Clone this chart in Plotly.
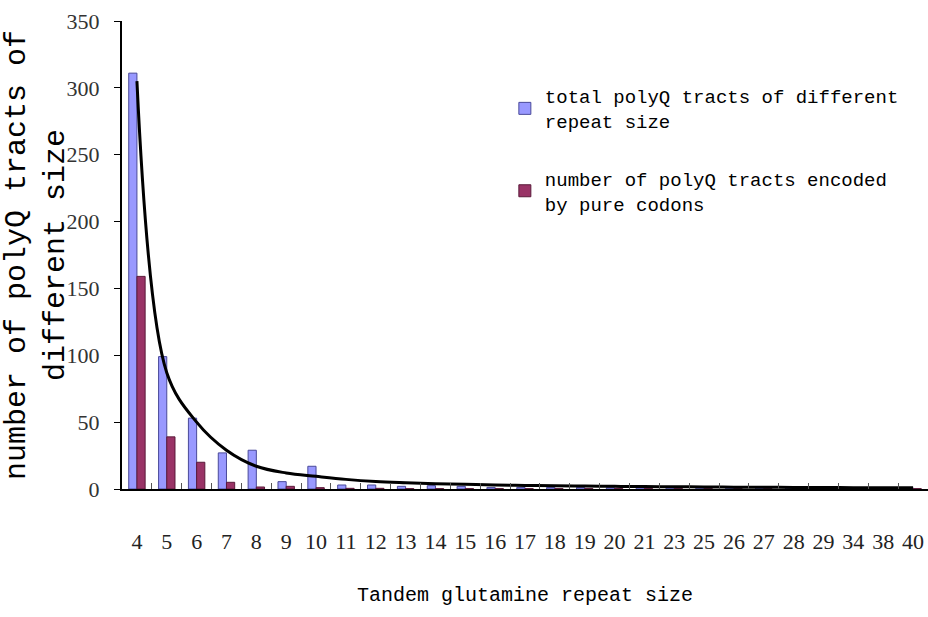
import plotly.graph_objects as go

categories = ["4", "5", "6", "7", "8", "9", "10", "11", "12", "13", "14", "15", "16",
              "17", "18", "19", "20", "21", "23", "25", "26", "27", "28", "29", "34", "38", "40"]
total_tracts = [311, 99, 53, 27, 29, 5.5, 17, 3, 3, 2, 2.5, 2, 1.2, 1.2, 1.2, 1.2,
                1, 1, 1, 1, 1, 1, 1, 1, 1, 1, 1]
pure_codon_tracts = [159, 39, 20, 5, 1.5, 2, 1, 0.5, 0.5, 0.3, 0.3, 0.3, 0.3, 0.3, 0.3, 0.3,
                     0.3, 0.3, 0.3, 0.3, 0.3, 0.3, 0.3, 0.3, 0.3, 0.3, 0.3]
trend_values = [305, 87, 50, 29, 17, 12, 9.5, 7.2, 5.6, 4.7, 4.0, 3.5, 3.0, 2.7, 2.4,
                2.2, 2.0, 1.8, 1.7, 1.5, 1.4, 1.3, 1.2, 1.1, 1.0, 0.95, 0.9]

legend_total = "total polyQ tracts of different<br>repeat size"
legend_pure = "number of polyQ tracts encoded<br>by pure codons"

mono = "Liberation Mono, Courier New, monospace"
serif = "Liberation Serif, Times New Roman, serif"

fig = go.Figure()
fig.add_trace(go.Bar(
    x=categories, y=total_tracts, name=legend_total, legendgroup="a",
    marker=dict(color="#9999ff", line=dict(color="#4a4a9a", width=1)),
))
fig.add_trace(go.Bar(
    x=categories, y=pure_codon_tracts, name=legend_pure, legendgroup="b",
    marker=dict(color="#993366", line=dict(color="#5a1a3a", width=1)),
))
fig.add_trace(go.Scatter(
    x=categories, y=trend_values, mode="lines", showlegend=False,
    line=dict(color="black", width=3, shape="spline", smoothing=1.0),
))

fig.update_layout(
    width=928, height=617,
    margin=dict(l=122, r=0, t=21, b=128, autoexpand=False),
    paper_bgcolor="white", plot_bgcolor="white",
    barmode="group", bargap=0.45, bargroupgap=0,
    showlegend=True,
    legend=dict(
        x=0.475, y=0.88, xanchor="left", yanchor="top",
        font=dict(family=mono, size=19, color="black"),
        bgcolor="rgba(0,0,0,0)", traceorder="grouped", tracegroupgap=30,
        itemwidth=30,
    ),
    xaxis=dict(
        type="category", showline=True, linecolor="black", linewidth=2,
        ticks="inside", tickson="boundaries", ticklen=6, tickcolor="#555555",
        tickangle=0,
        tickfont=dict(family=serif, size=22, color="#222222"),
        ticklabelstandoff=32,
        title=dict(text="Tandem glutamine repeat size",
                   font=dict(family=mono, size=20, color="black"), standoff=34),
        showgrid=False, zeroline=False,
    ),
    yaxis=dict(
        range=[0, 350], tickvals=[0, 50, 100, 150, 200, 250, 300, 350],
        showline=True, linecolor="black", linewidth=2,
        ticks="outside", ticklen=6, tickcolor="black",
        tickfont=dict(family=serif, size=22, color="#333333"),
        ticklabelstandoff=10,
        title=dict(text="number of polyQ tracts of<br>different size",
                   font=dict(family=mono, size=30, color="black"), standoff=8),
        showgrid=False, zeroline=False,
    ),
)

fig.write_html("out.html")
